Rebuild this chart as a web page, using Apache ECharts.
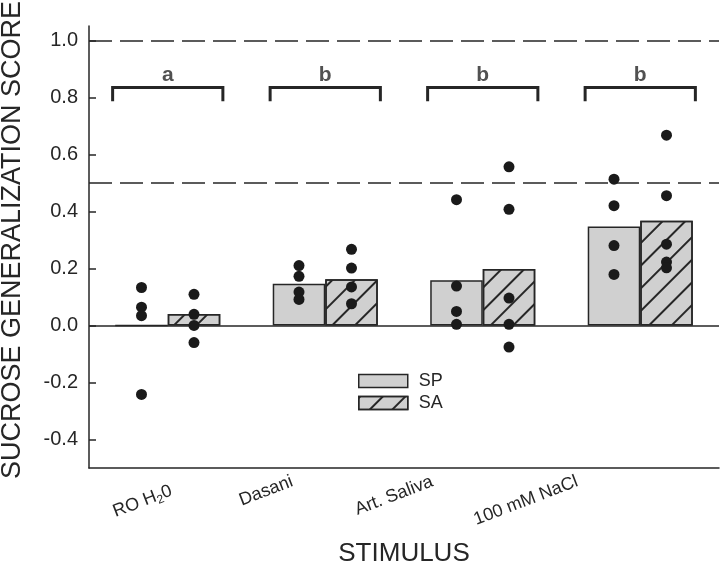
<!DOCTYPE html>
<html>
<head>
<meta charset="utf-8">
<script src="https://cdn.jsdelivr.net/npm/echarts@6/dist/echarts.min.js"></script>
<style>html,body{margin:0;padding:0;background:#fff;}#c{width:720px;height:563px;}</style>
</head>
<body>
<div id="c"></div>
<script>
// ---- data ----
const categories = ['RO H2O', 'Dasani', 'Art. Saliva', '100 mM NaCl'];
const seriesNames = ['SP', 'SA'];
const spMeans = [0.0, 0.146, 0.158, 0.347];
const saMeans = [0.040, 0.162, 0.198, 0.367];
const spPoints = [
  [0.133, 0.064, 0.034, -0.242],
  [0.210, 0.172, 0.117, 0.091],
  [0.441, 0.138, 0.049, 0.004],
  [0.513, 0.420, 0.280, 0.179]
];
const saPoints = [
  [0.109, 0.039, 0.0, -0.060],
  [0.267, 0.201, 0.135, 0.076],
  [0.556, 0.407, 0.096, 0.004, -0.076],
  [0.667, 0.455, 0.285, 0.222, 0.202]
];
const sigLetters = ['a', 'b', 'b', 'b'];
const bracketTop = 0.834;
const bracketBottom = 0.786;
const refLines = [0.5, 1.0];
const yTicks = [-0.4, -0.2, 0.0, 0.2, 0.4, 0.6, 0.8, 1.0];
const yMin = -0.5, yMax = 1.05;

// ---- layout constants ----
const dotOffset = 1 / 6;      // bar centre offset within a category (category units)
const bracketHalf = 0.35;     // half width of bracket (category units)
const labelAnchor = [0.0, 0.79, 1.68, 2.6]; // where rotated tick labels end

const ink = '#262626';
const barFill = '#d0d0d0';

function pts(arr, sign) {
  const out = [];
  arr.forEach((vals, i) => vals.forEach(v => out.push([i + sign * dotOffset, v])));
  return out;
}

const bracketSeries = categories.map((c, i) => ({
  type: 'line', xAxisIndex: 1, yAxisIndex: 0, symbol: 'none', silent: true,
  lineStyle: { color: ink, width: 3, cap: 'butt', join: 'miter' },
  data: [[i - bracketHalf, bracketBottom], [i - bracketHalf, bracketTop],
         [i + bracketHalf, bracketTop], [i + bracketHalf, bracketBottom]],
  z: 5
}));

const chart = echarts.init(document.getElementById('c'), null, { renderer: 'canvas' });
const option = {
  animation: false,
  backgroundColor: '#fff',
  textStyle: { fontFamily: 'Liberation Sans, Arial, sans-serif', color: ink },
  grid: { left: 89, right: 1, top: 26, bottom: 95, containLabel: false, outerBoundsMode: 'none' },
  legend: {
    data: seriesNames, orient: 'vertical', left: 358, top: 372, padding: 0,
    itemWidth: 49, itemHeight: 13, itemGap: 4, icon: 'rect',
    itemStyle: { borderColor: ink, borderWidth: 1.5 },
    textStyle: { fontSize: 18, color: ink, padding: [0, 0, 0, 6] },
    selectedMode: false
  },
  xAxis: [
    {
      type: 'category', data: categories, position: 'bottom',
      axisLine: { onZero: false, lineStyle: { color: ink, width: 1.5 } },
      axisTick: { show: false }, axisLabel: { show: false },
      name: 'STIMULUS', nameLocation: 'middle', nameGap: 73,
      nameTextStyle: { fontSize: 26, color: ink }
    },
    {
      type: 'value', min: -0.5, max: 3.5, position: 'bottom',
      axisLine: { show: false, onZero: false }, axisTick: { show: false }, splitLine: { show: false },
      axisLabel: {
        show: true, customValues: labelAnchor, rotate: 21, margin: 13,
        fontSize: 18, color: ink,
        formatter: function (v) {
          let idx = 0, best = 1e9;
          labelAnchor.forEach((p, k) => { if (Math.abs(p - v) < best) { best = Math.abs(p - v); idx = k; } });
          if (idx === 0) return '{e|}\n{n|RO H}{s|2}{n|0}';
          return '{n|' + categories[idx] + '}';
        },
        rich: {
          n: { fontSize: 18, color: ink, lineHeight: 22 },
          e: { fontSize: 18, lineHeight: 20 },
          s: { fontSize: 12, color: ink, lineHeight: 12, verticalAlign: 'bottom' }
        }
      }
    }
  ],
  yAxis: {
    type: 'value', min: yMin, max: yMax,
    axisLine: { show: true, onZero: false, lineStyle: { color: ink, width: 1.5 } },
    axisTick: { show: true, inside: true, length: 7, customValues: yTicks, lineStyle: { color: ink, width: 1.5 } },
    axisLabel: { customValues: yTicks, fontSize: 20, color: ink, margin: 11,
      formatter: v => v.toFixed(1) },
    splitLine: { show: false },
    name: 'SUCROSE GENERALIZATION SCORE', nameLocation: 'middle', nameGap: 63,
    nameTextStyle: { fontSize: 27, color: ink, padding: [0, 0, 0, 14] }
  },
  series: [
    {
      name: 'SP', type: 'bar', data: spMeans, barGap: '0%', barCategoryGap: '33.3%',
      itemStyle: { color: barFill, borderColor: ink, borderWidth: 1.5 },
      markLine: {
        silent: true, symbol: 'none', label: { show: false },
        data: refLines.map(v => ({ yAxis: v, lineStyle: { type: [23, 8], color: ink, width: 1.5 } }))
          .concat([{ yAxis: 0, lineStyle: { type: 'solid', color: ink, width: 1.5 } }])
      },
      z: 2
    },
    {
      name: 'SA', type: 'bar', data: saMeans,
      itemStyle: {
        color: barFill, borderColor: ink, borderWidth: 1.5,
        decal: { symbol: 'rect', symbolSize: 1, color: ink, dashArrayX: [1, 0], dashArrayY: [1.5, 14], rotation: -Math.PI / 4 }
      },
      z: 2
    },
    {
      name: 'SP points', type: 'scatter', xAxisIndex: 1, data: pts(spPoints, -1),
      symbolSize: 11, itemStyle: { color: '#1a1a1a', opacity: 1 }, z: 6
    },
    {
      name: 'SA points', type: 'scatter', xAxisIndex: 1, data: pts(saPoints, 1),
      symbolSize: 11, itemStyle: { color: '#1a1a1a', opacity: 1 }, z: 6
    },
    {
      name: 'letters', type: 'scatter', xAxisIndex: 1, symbolSize: 0, silent: true,
      data: sigLetters.map((l, i) => ({ value: [i, bracketTop], letter: l })),
      label: { show: true, position: 'top', distance: 2, fontSize: 21, fontWeight: 'bold', color: ink,
        formatter: p => p.data.letter }
    }
  ].concat(bracketSeries)
};
chart.setOption(option);
</script>
</body>
</html>
